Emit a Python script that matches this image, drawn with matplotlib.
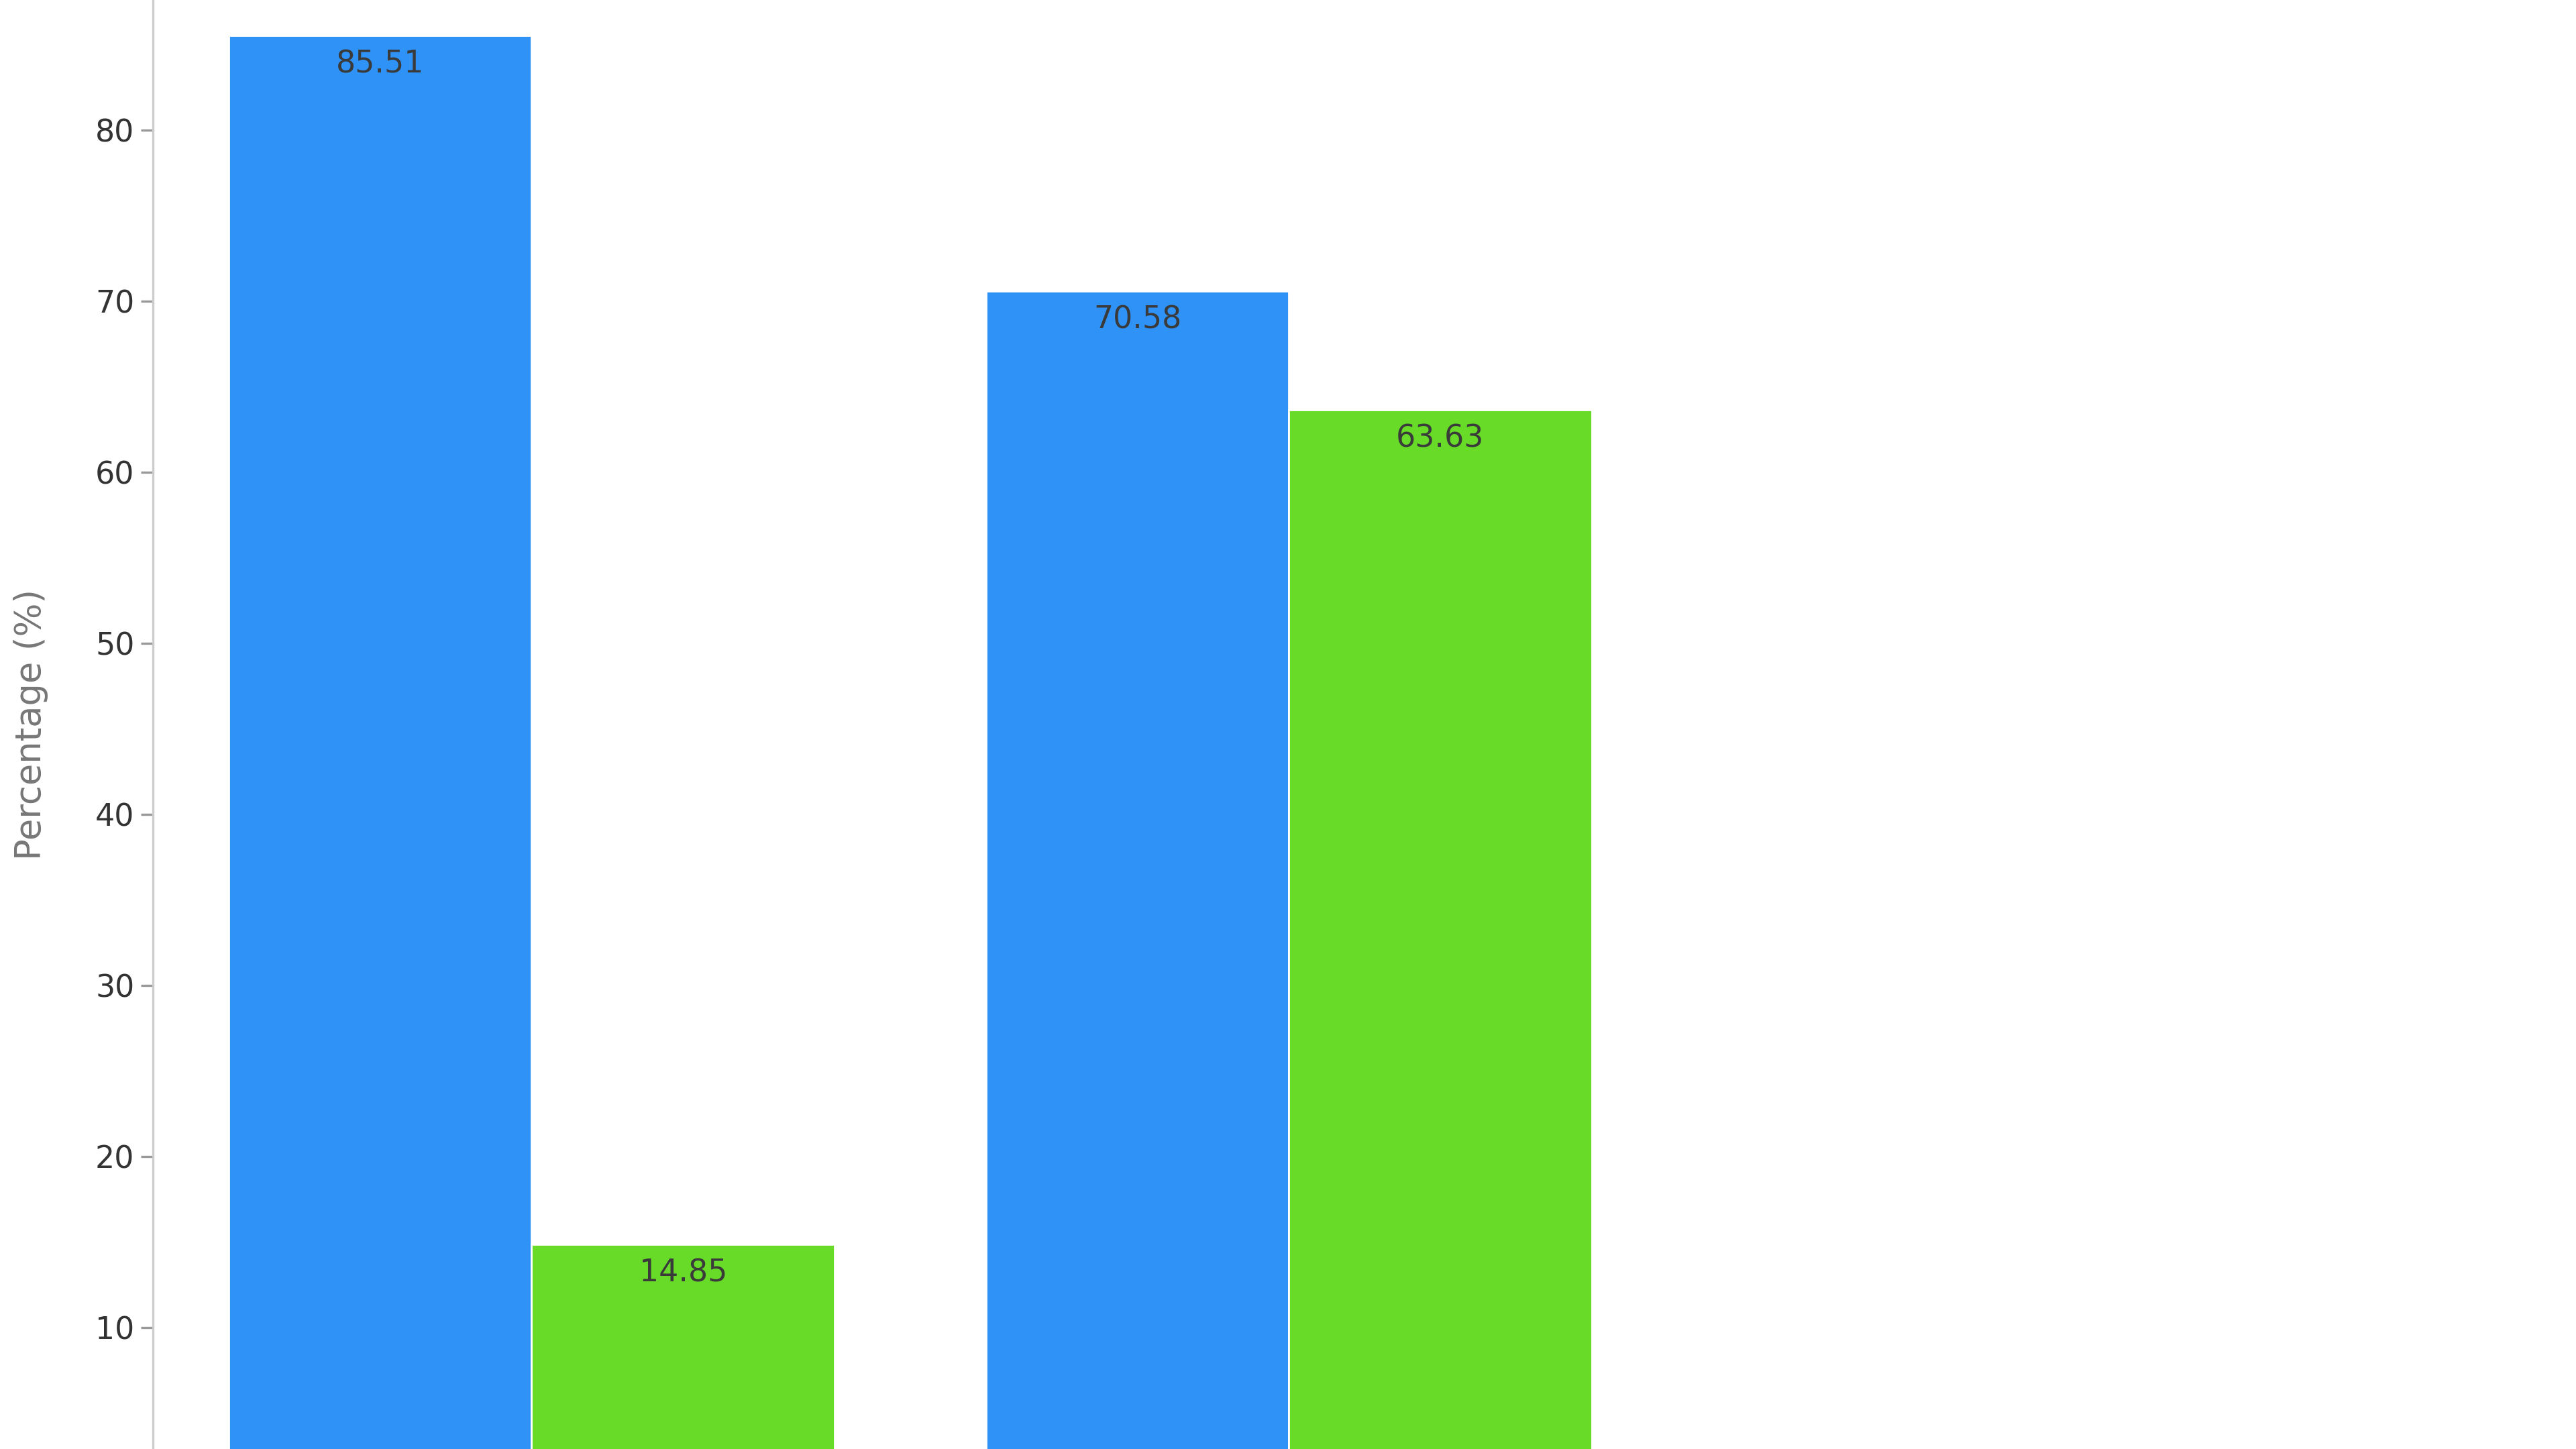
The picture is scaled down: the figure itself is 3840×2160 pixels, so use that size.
import matplotlib
matplotlib.use("Agg")
import matplotlib.pyplot as plt
import numpy as np

# values
groups = ["Group 1", "Group 2"]
series_a = [85.51, 70.58]
series_b = [14.85, 63.63]

blue = "#2F92F7"
green = "#67DB27"

fig = plt.figure(figsize=(19.2, 10.8), dpi=200)
ax = fig.add_axes([0.0594, 0.0, 0.9406, 1.0])

x = np.arange(len(groups))
w = 0.4
bars_a = ax.bar(x - w/2, series_a, w, color=blue, edgecolor="white", linewidth=1)
bars_b = ax.bar(x + w/2, series_b, w, color=green, edgecolor="white", linewidth=1)

for bars in (bars_a, bars_b):
    for b in bars:
        h = b.get_height()
        ax.annotate(f"{h:.2f}", (b.get_x() + b.get_width()/2, h),
                    xytext=(0, -7.5), textcoords="offset points",
                    ha="center", va="top", fontsize=16.5, color="#3a3a3a")

ax.set_xlim(-0.5, 2.70)
ax.set_ylim(2.89, 87.59)
ax.set_yticks([10, 20, 30, 40, 50, 60, 70, 80])
ax.set_xticks([])

ax.tick_params(axis="y", labelsize=16.5, labelcolor="#333333", color="#999999",
               length=6.5, width=1.2, pad=3.5)
ax.set_ylabel("Percentage (%)", fontsize=19, color="#777777", labelpad=25)

for s in ("top", "right", "bottom"):
    ax.spines[s].set_visible(False)
ax.spines["left"].set_color("#cccccc")
ax.spines["left"].set_linewidth(1.2)

fig.savefig("out.png", dpi=200)
